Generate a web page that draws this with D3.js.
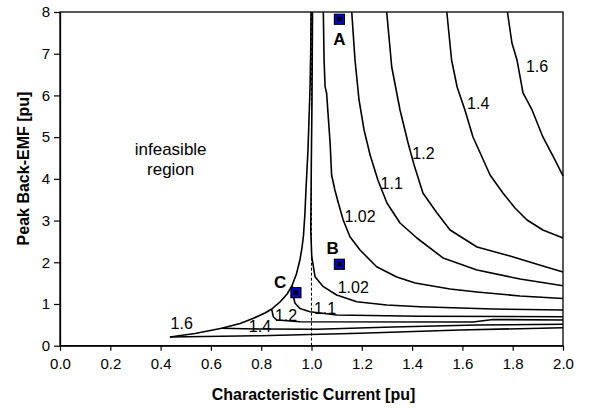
<!DOCTYPE html>
<html>
<head>
<meta charset="utf-8">
<script src="https://cdn.jsdelivr.net/npm/d3@7"></script>
<style>
  body { margin: 0; background: #fff; }
  svg { display: block; font-family: "Liberation Sans", Arial, sans-serif; }
</style>
</head>
<body>
<svg id="chart" width="590" height="410"></svg>
<script>
// ---- data (x = characteristic current [pu], y = peak back-EMF [pu]) ----
const xTicks = [0.0, 0.2, 0.4, 0.6, 0.8, 1.0, 1.2, 1.4, 1.6, 1.8, 2.0];
const yTicks = [0, 1, 2, 3, 4, 5, 6, 7, 8];

const boundary = [
  [0.437,0.209],[0.537,0.292],[0.643,0.417],[0.716,0.532],[0.767,0.652],[0.815,0.784],
  [0.842,0.880],[0.875,1.048],[0.903,1.240],[0.922,1.431],[0.940,1.719],[0.954,2.055],
  [0.962,2.342],[0.968,2.630],[0.974,3.182],[0.978,3.733],[0.982,4.212],[0.986,4.692],
  [0.990,5.411],[0.994,6.130],[0.997,7.089],[0.998,8.0]
];
const c102Upper = [
  [1.047,8.0],[1.050,6.850],[1.054,6.210],[1.060,6.059],[1.074,4.860],[1.080,4.093],
  [1.093,3.733],[1.107,3.414],[1.126,3.014],[1.153,2.613],[1.193,2.294],[1.259,1.894],
  [1.339,1.647],[1.412,1.503],[1.551,1.359],[1.658,1.287],[1.829,1.192],[2.0,1.132]
];
const c110Upper = [
  [1.160,8.0],[1.173,6.850],[1.189,5.891],[1.209,5.171],[1.233,4.572],[1.264,3.973],
  [1.300,3.421],[1.352,2.942],[1.419,2.582],[1.523,2.103],[1.658,1.815],[1.829,1.599],[2.0,1.439]
];
const c120Upper = [
  [1.299,8.0],[1.319,6.682],[1.352,5.651],[1.384,4.860],[1.408,4.332],[1.443,3.661],
  [1.499,3.182],[1.551,2.774],[1.658,2.366],[1.789,2.151],[1.920,1.911],[2.0,1.767]
];
const c140Upper = [
  [1.538,8.0],[1.557,6.850],[1.579,6.202],[1.610,5.651],[1.642,5.004],[1.678,4.524],
  [1.710,4.093],[1.761,3.661],[1.809,3.301],[1.857,3.014],[1.920,2.774],[2.0,2.582]
];
const c160Upper = [
  [1.779,8.0],[1.797,7.257],[1.817,6.850],[1.841,6.059],[1.877,5.651],[1.920,5.004],
  [1.968,4.452],[2.0,4.069]
];
const c102Lower = [
  [1.004,8.0],[1.002,5.891],[0.999,4.212],[0.997,2.774],[1.001,2.134],[1.014,1.654],
  [1.047,1.415],[1.100,1.216],[1.180,1.055],[1.299,0.976],[1.431,0.935],[1.722,0.880],[2.0,0.856]
];
const c110Lower = [
  [0.924,1.431],[0.928,1.192],[0.934,1.024],[0.954,0.892],[0.994,0.815],[1.100,0.736],
  [1.431,0.707],[2.0,0.695]
];
const c120Lower = [
  [0.842,0.868],[0.848,0.695],[0.862,0.616],[0.954,0.575],[1.642,0.568],[1.722,0.628],[2.0,0.616]
];
const c140Lower = [
  [0.643,0.417],[0.795,0.400],[1.022,0.393],[1.324,0.448],[1.658,0.496],[2.0,0.513]
];
const c160Lower = [
  [0.437,0.209],[0.795,0.240],[1.193,0.297],[1.590,0.376],[2.0,0.432]
];
const contours = [boundary, c102Upper, c110Upper, c120Upper, c140Upper, c160Upper,
                  c102Lower, c110Lower, c120Lower, c140Lower, c160Lower];

const contourLabels = [
  {t:"1.6",  x:1.897, y:6.689}, {t:"1.4",  x:1.663, y:5.811}, {t:"1.2", x:1.445, y:4.613},
  {t:"1.1",  x:1.319, y:3.894}, {t:"1.02", x:1.193, y:3.093}, {t:"1.02", x:1.166, y:1.400},
  {t:"1.1",  x:1.054, y:0.897}, {t:"1.2",  x:0.899, y:0.719}, {t:"1.4", x:0.795, y:0.456},
  {t:"1.6",  x:0.484, y:0.544}
];
const points = [
  {name:"A", x:1.111, y:7.826, lx:1.111, ly:7.346},
  {name:"B", x:1.111, y:1.952, lx:1.084, ly:2.335},
  {name:"C", x:0.938, y:1.271, lx:0.875, ly:1.534}
];
const regionText = [
  {t:"infeasible", x:0.44, y:4.572},
  {t:"region",     x:0.44, y:4.093}
];
const xTitle = "Characteristic Current [pu]";
const yTitle = "Peak Back-EMF [pu]";

// ---- layout ----
const svg = d3.select("#chart");
const L = 60, R = 563, T = 12, B = 345.7;
const x = d3.scaleLinear().domain([0, 2]).range([L, R]);
const y = d3.scaleLinear().domain([0, 8]).range([B, T]);

// frame (top & right)
svg.append("rect").attr("x", L).attr("y", T).attr("width", R - L).attr("height", B - T)
  .attr("fill", "none").attr("stroke", "#000").attr("stroke-width", 1.3);

// dashed vertical at x = 1
svg.append("line").attr("x1", x(1)).attr("x2", x(1)).attr("y1", y(0)).attr("y2", y(8))
  .attr("stroke", "#000").attr("stroke-width", 1).attr("stroke-dasharray", "3,2");

// contours
const line = d3.line().x(d => x(d[0])).y(d => y(d[1]));
svg.append("g").selectAll("path").data(contours).join("path")
  .attr("d", line).attr("fill", "none").attr("stroke", "#000")
  .attr("stroke-width", 1.6).attr("stroke-linejoin", "round");

// axes
const xAxis = svg.append("g").attr("transform", `translate(0,${B})`)
  .call(d3.axisBottom(x).tickValues(xTicks).tickFormat(d3.format(".1f")).tickSize(5).tickPadding(8).tickSizeOuter(0));
const yAxis = svg.append("g").attr("transform", `translate(${L},0)`)
  .call(d3.axisLeft(y).tickValues(yTicks).tickFormat(d3.format("d")).tickSize(6).tickPadding(4).tickSizeOuter(0));
[xAxis, yAxis].forEach(g => {
  g.select(".domain").attr("stroke", "#000").attr("stroke-width", 1.3);
  g.selectAll(".tick line").attr("stroke", "#000").attr("stroke-width", 1.2);
  g.selectAll(".tick text").attr("font-size", 15).attr("fill", "#000")
    .attr("font-family", "Liberation Sans, Arial, sans-serif");
});

// contour labels
svg.append("g").selectAll("text").data(contourLabels).join("text")
  .attr("x", d => x(d.x)).attr("y", d => y(d.y)).attr("dy", "0.35em")
  .attr("text-anchor", "middle").attr("font-size", 16).attr("fill", "#000")
  .text(d => d.t);

// region text
svg.append("g").selectAll("text").data(regionText).join("text")
  .attr("x", d => x(d.x)).attr("y", d => y(d.y))
  .attr("text-anchor", "middle").attr("font-size", 17).attr("fill", "#000")
  .text(d => d.t);

// marker points
const pg = svg.append("g");
pg.selectAll("rect.outer").data(points).join("rect").attr("class", "outer")
  .attr("x", d => x(d.x) - 5).attr("y", d => y(d.y) - 5).attr("width", 10).attr("height", 10)
  .attr("fill", "#0000ee").attr("stroke", "#000").attr("stroke-width", 1.2);
pg.selectAll("rect.inner").data(points).join("rect").attr("class", "inner")
  .attr("x", d => x(d.x) - 2.5).attr("y", d => y(d.y) - 2.5).attr("width", 5).attr("height", 5)
  .attr("fill", "#000");
pg.selectAll("text").data(points).join("text")
  .attr("x", d => x(d.lx)).attr("y", d => y(d.ly)).attr("dy", "0.36em")
  .attr("text-anchor", "middle").attr("font-size", 17).attr("font-weight", "bold").attr("fill", "#000")
  .text(d => d.name);

// axis titles
svg.append("text").attr("x", (L + R) / 2 + 2).attr("y", 400)
  .attr("text-anchor", "middle").attr("font-size", 16).attr("font-weight", "bold").text(xTitle);
svg.append("text").attr("transform", "translate(29,168.5) rotate(-90)")
  .attr("text-anchor", "middle").attr("font-size", 16).attr("font-weight", "bold").text(yTitle);
</script>
</body>
</html>
